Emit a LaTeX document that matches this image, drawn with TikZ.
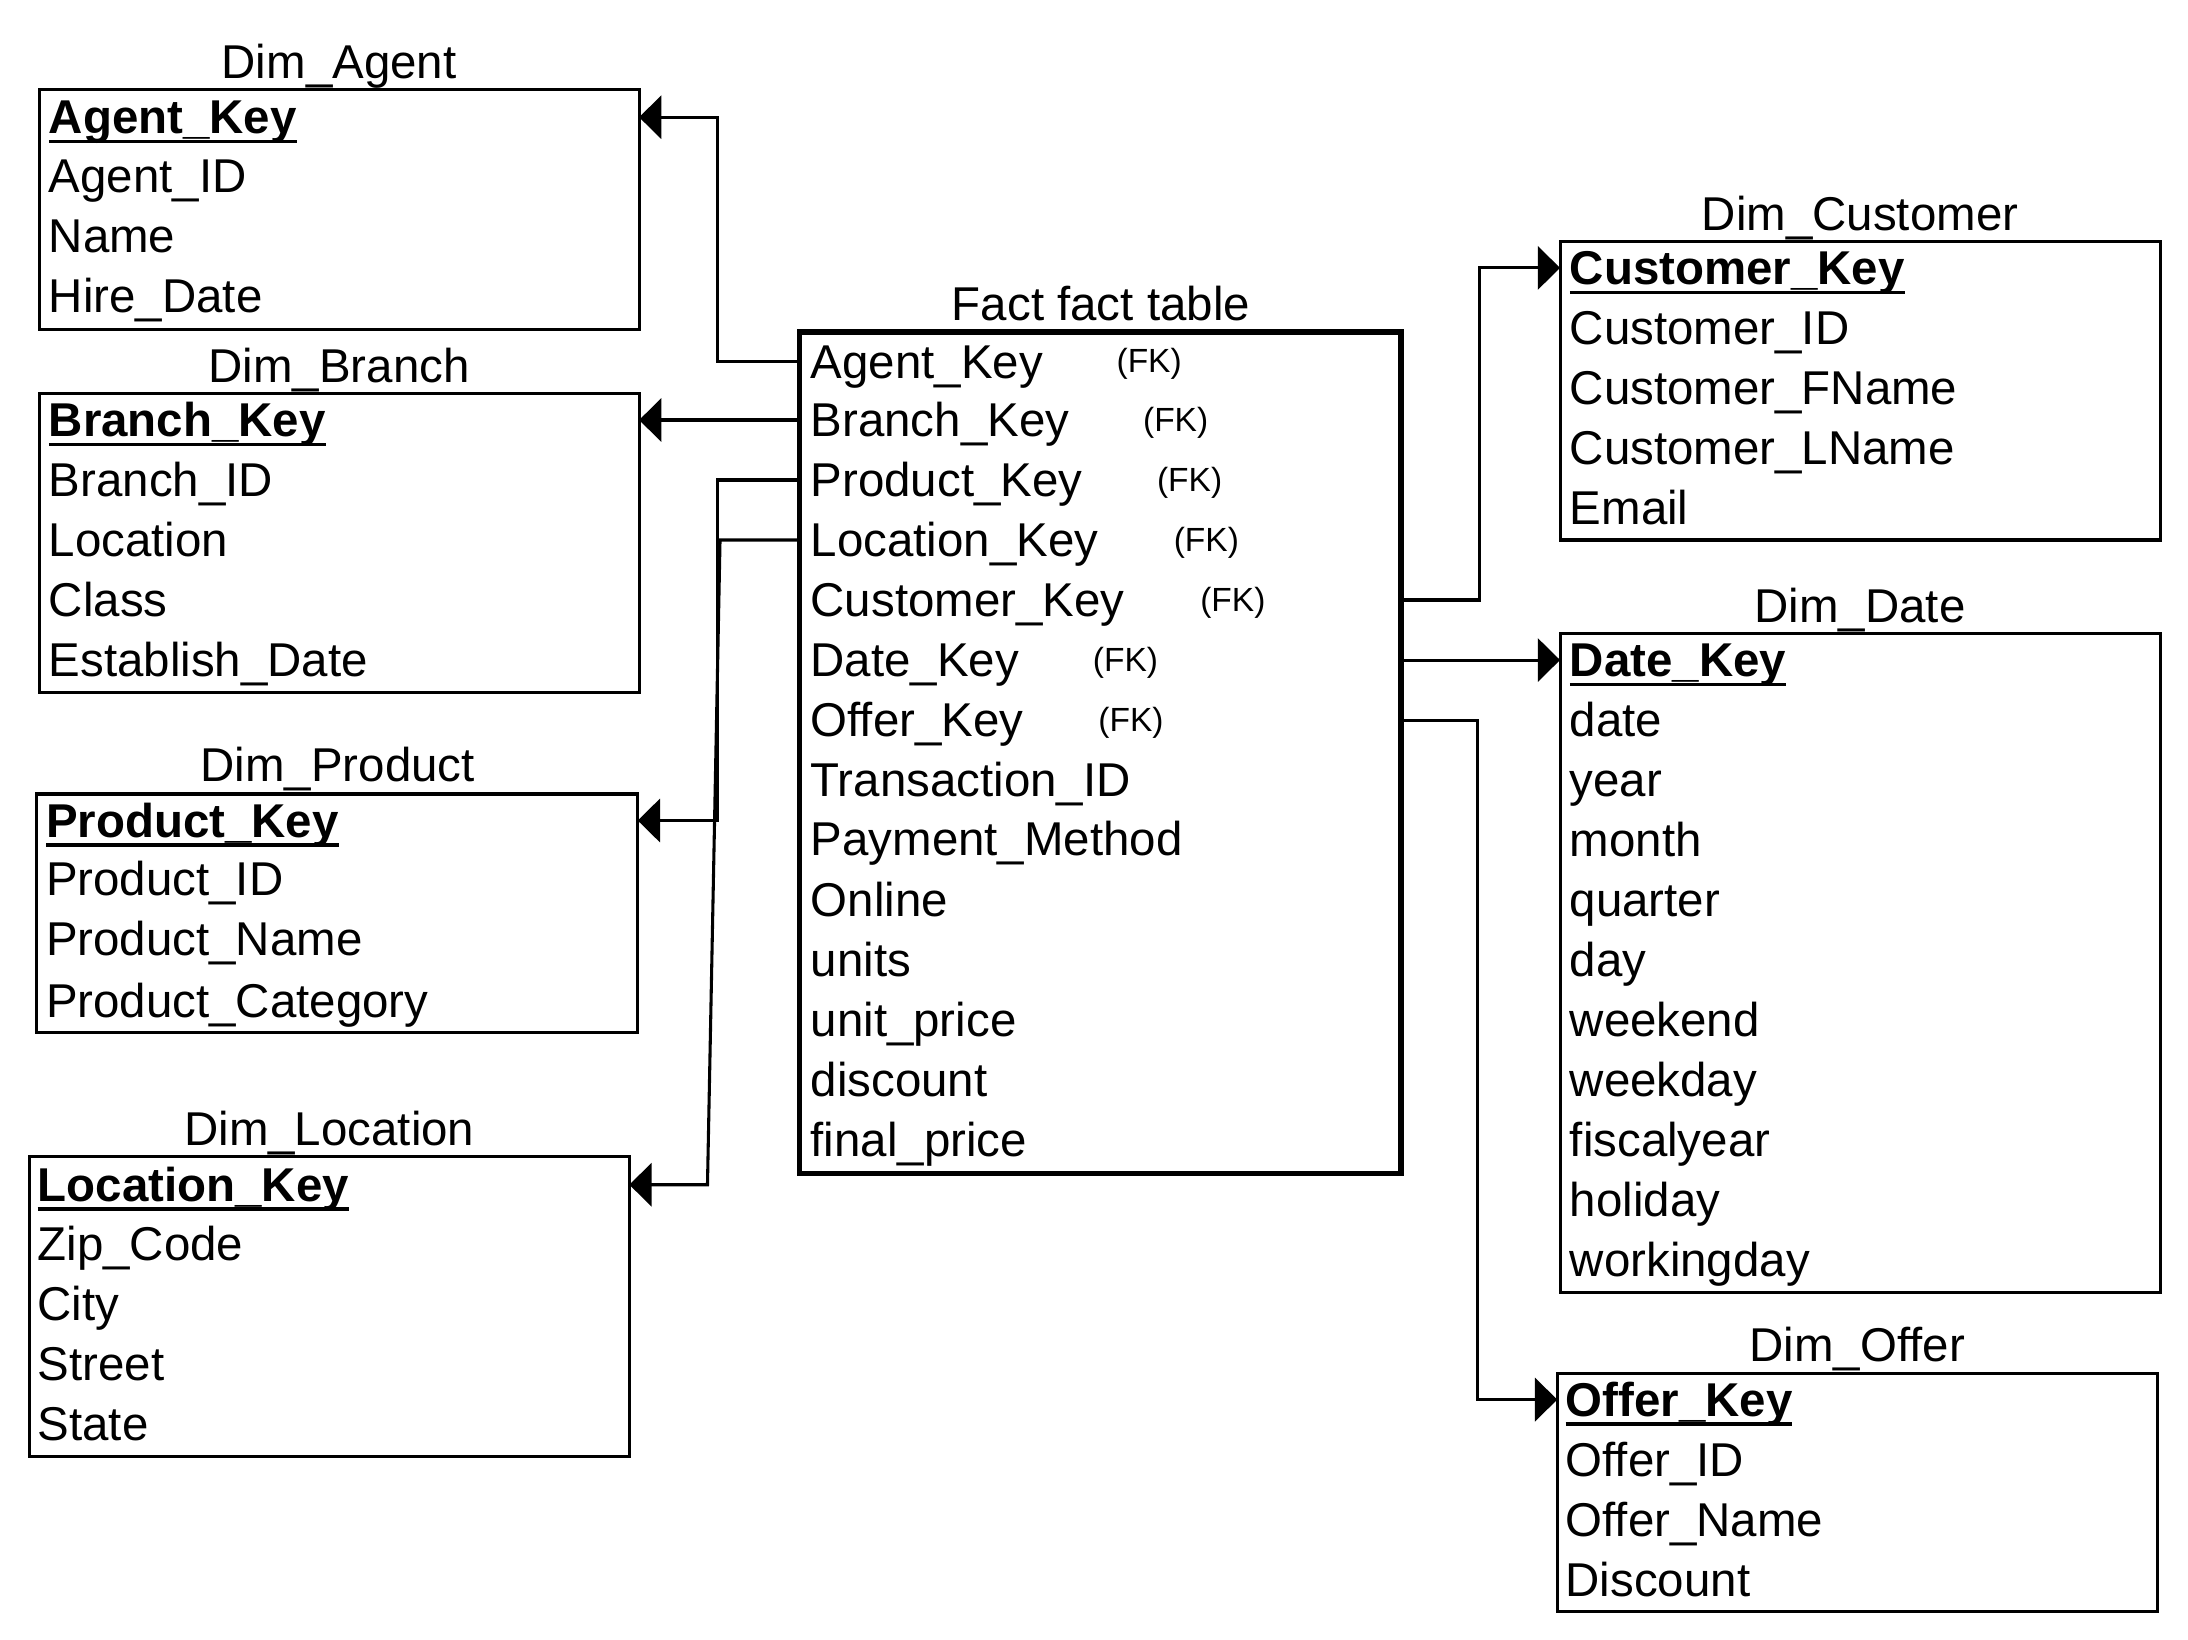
\documentclass[tikz,border=0pt]{standalone}
\usepackage{fontspec}
\setmainfont{Liberation Sans}
\usetikzlibrary{arrows.meta}
\begin{document}
\begin{tikzpicture}[x=1pt,y=-1pt,
 tbl/.style={draw, line width=2.2pt, anchor=north west, inner sep=0pt, outer sep=0pt},
 facttbl/.style={draw, line width=4pt, anchor=north west, inner sep=0pt, outer sep=0pt},
 ttl/.style={font=\fontsize{34}{40}\selectfont, anchor=base, inner sep=0pt},
 fld/.style={font=\fontsize{34}{40}\selectfont, anchor=west, inner sep=0pt, outer sep=0pt, text height=24pt, text depth=0pt},
 keyfld/.style={fld, font=\fontsize{34}{40}\selectfont\bfseries},
 fk/.style={font=\fontsize{24}{28}\selectfont, anchor=base west, inner sep=0pt},
 ul/.style={line width=2.5pt},
 conn/.style={line width=2.2pt},
 arr/.style={conn, -{Triangle[length=16pt, width=31pt]}}]
\fill[white] (0,0) rectangle (1568,1175);
\useasboundingbox (0,0) rectangle (1568,1175);

% ---------- Dim_Agent
\node[tbl, minimum width=430pt, minimum height=172pt] (agent) at (28,64) {};
\node[ttl] (agentT) at (243,56) {Dim\_Agent};
\node[keyfld] (aKey) at (35,84) {Agent\_Key};
\node[fld] (a2) at (35,126) {Agent\_ID};
\node[fld] (a3) at (35,169) {Name};
\node[fld] (a4) at (35,212) {Hire\_Date};

% ---------- Dim_Branch
\node[tbl, minimum width=430pt, minimum height=214pt] (branch) at (28,282) {};
\node[ttl] (branchT) at (243,274) {Dim\_Branch};
\node[keyfld] (bKey) at (35,301) {Branch\_Key};
\node[fld] (b2) at (35,344) {Branch\_ID};
\node[fld] (b3) at (35,387) {Location};
\node[fld] (b4) at (35,430) {Class};
\node[fld] (b5) at (35,473) {Establish\_Date};

% ---------- Dim_Product
\node[tbl, minimum width=431pt, minimum height=171pt] (product) at (26,569) {};
\node[ttl] (productT) at (242,560) {Dim\_Product};
\node[keyfld] (pKey) at (33,588) {Product\_Key};
\node[fld] (p2) at (33,630) {Product\_ID};
\node[fld] (p3) at (33,673) {Product\_Name};
\node[fld] (p4) at (33,717) {Product\_Category};

% ---------- Dim_Location
\node[tbl, minimum width=430pt, minimum height=215pt] (location) at (21,829) {};
\node[ttl] (locationT) at (236,821) {Dim\_Location};
\node[keyfld] (lKey) at (27,849) {Location\_Key};
\node[fld] (l2) at (27,891) {Zip\_Code};
\node[fld] (l3) at (27,934) {City};
\node[fld] (l4) at (27,977) {Street};
\node[fld] (l5) at (27,1020) {State};

% ---------- Fact table
\node[facttbl, minimum width=431pt, minimum height=603pt] (fact) at (573,238) {};
\node[ttl] (factT) at (789,230) {Fact fact table};
\node[fld] (f1) at (581,259) {Agent\_Key};
\node[fld] (f2) at (581,301) {Branch\_Key};
\node[fld] (f3) at (581,344) {Product\_Key};
\node[fld] (f4) at (581,387) {Location\_Key};
\node[fld] (f5) at (581,430) {Customer\_Key};
\node[fld] (f6) at (581,473) {Date\_Key};
\node[fld] (f7) at (581,516) {Offer\_Key};
\node[fld] (f8) at (581,559) {Transaction\_ID};
\node[fld] (f9) at (581,601) {Payment\_Method};
\node[fld] (f10) at (581,645) {Online};
\node[fld] (f11) at (581,688) {units};
\node[fld] (f12) at (581,731) {unit\_price};
\node[fld] (f13) at (581,774) {discount};
\node[fld] (f14) at (581,817) {final\_price};
\node[fk] (k1) at (800,267) {(FK)};
\node[fk] (k2) at (819,309) {(FK)};
\node[fk] (k3) at (829,352) {(FK)};
\node[fk] (k4) at (841,395) {(FK)};
\node[fk] (k5) at (860,438) {(FK)};
\node[fk] (k6) at (783,481) {(FK)};
\node[fk] (k7) at (787,524) {(FK)};

% ---------- Dim_Customer
\node[tbl, minimum width=430pt, minimum height=214pt] (customer) at (1118,173) {};
\node[ttl] (customerT) at (1333,165) {Dim\_Customer};
\node[keyfld] (cKey) at (1125,192) {Customer\_Key};
\node[fld] (c2) at (1125,235) {Customer\_ID};
\node[fld] (c3) at (1125,278) {Customer\_FName};
\node[fld] (c4) at (1125,321) {Customer\_LName};
\node[fld] (c5) at (1125,364) {Email};

% ---------- Dim_Date
\node[tbl, minimum width=430pt, minimum height=472pt] (date) at (1118,454) {};
\node[ttl] (dateT) at (1333,446) {Dim\_Date};
\node[keyfld] (dKey) at (1125,473) {Date\_Key};
\node[fld] (d2) at (1125,516) {date};
\node[fld] (d3) at (1125,559) {year};
\node[fld] (d4) at (1125,602) {month};
\node[fld] (d5) at (1125,645) {quarter};
\node[fld] (d6) at (1125,688) {day};
\node[fld] (d7) at (1125,731) {weekend};
\node[fld] (d8) at (1125,774) {weekday};
\node[fld] (d9) at (1125,817) {fiscalyear};
\node[fld] (d10) at (1125,860) {holiday};
\node[fld] (d11) at (1125,903) {workingday};

% ---------- Dim_Offer
\node[tbl, minimum width=430pt, minimum height=171pt] (offer) at (1116,984) {};
\node[ttl] (offerT) at (1331,976) {Dim\_Offer};
\node[keyfld] (oKey) at (1122,1003) {Offer\_Key};
\node[fld] (o2) at (1122,1046) {Offer\_ID};
\node[fld] (o3) at (1122,1089) {Offer\_Name};
\node[fld] (o4) at (1122,1132) {Discount};

% ---------- underlines of keys
\foreach \k in {aKey,bKey,pKey,lKey,cKey,dKey,oKey}
  \draw[ul] ([yshift=-5.5pt]\k.base west) -- ([yshift=-5.5pt]\k.base east);

% ---------- connectors
\draw[arr] (f1.west -| fact.west) -- ++(-59,0) |- (aKey.west -| agent.east);
\draw[arr] (f2.west -| fact.west) -- (bKey.west -| branch.east);
\draw[arr] (f3.west -| fact.west) -- ++(-59,0) |- (pKey.west -| product.east);
\draw[arr] (f4.west -| fact.west) -- ++(-57,0) -- ++(-9,462) -- (lKey.west -| location.east);
\draw[arr] (f5.west -| fact.east) -- ++(56,0) |- (cKey.west -| customer.west);
\draw[arr] (f6.west -| fact.east) -- (dKey.west -| date.west);
\draw[arr] (f7.west -| fact.east) -- ++(55,0) |- (oKey.west -| offer.west);
\end{tikzpicture}
\end{document}
